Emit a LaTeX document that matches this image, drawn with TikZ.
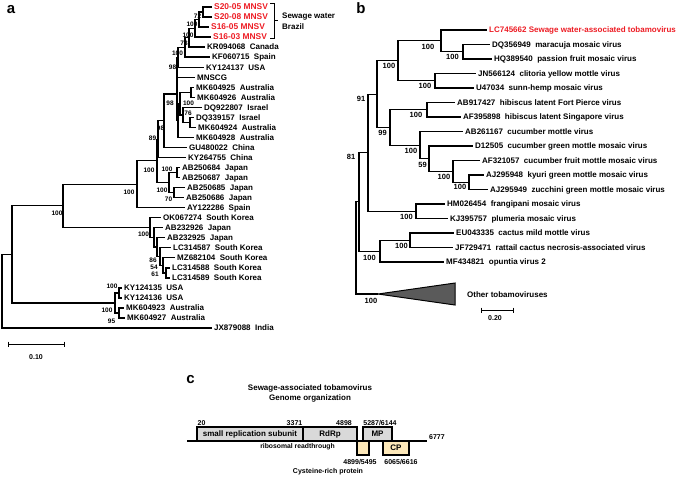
\documentclass[tikz,border=0pt]{standalone}
\usepackage{fontspec}
\setmainfont{Liberation Sans}
\usetikzlibrary{calc}
\definecolor{myred}{RGB}{237,28,36}
\definecolor{boxgray}{RGB}{217,217,217}
\definecolor{boxyel}{RGB}{253,232,185}
\definecolor{trigray}{RGB}{90,90,90}
\newcommand\mkclade[4]{%
  \path let \p1=($(#3)!0.5!(#4)$) in (#2pt,\y1) coordinate (#1);
  \draw[tr] (#3) -| (#1) |- (#4);}
\begin{document}
\begin{tikzpicture}[x=1pt,y=-1pt,
  tr/.style={line width=1.15pt},
  tip/.style={anchor=west, inner sep=2.5pt, text height=5.7pt, text depth=0pt, font=\fontsize{8}{9}\selectfont\bfseries},
  rtip/.style={tip, text=myred, font=\fontsize{8.4}{9}\selectfont\bfseries},
  txt/.style={inner sep=0pt, text height=5.7pt, text depth=0pt, font=\fontsize{8}{9}\selectfont\bfseries},
  bsa/.style={inner sep=0pt, font=\fontsize{6.5}{7}\selectfont\bfseries},
  bsb/.style={inner sep=0pt, font=\fontsize{7.5}{8}\selectfont\bfseries},
  panel/.style={inner sep=0pt, font=\fontsize{15}{15}\selectfont\bfseries},
  gbox/.style={draw, line width=1.2pt, fill=boxgray, inner sep=0pt, font=\fontsize{8}{9}\selectfont\bfseries},
  ybox/.style={draw, line width=1.2pt, fill=boxyel, inner sep=0pt, font=\fontsize{8}{9}\selectfont\bfseries},
  num/.style={inner sep=0pt, font=\fontsize{7}{8}\selectfont\bfseries}
]
\useasboundingbox (0,0) rectangle (677,477);

% ---------------- panel letters
\node[panel] (pa) at (11,9.5) {a};
\node[panel] (pb) at (361,8) {b};
\node[panel] (pc) at (190.5,380) {c};

% ---------------- tree a tips
\node[rtip] (a0) at (211.5,7) {S20-05 MNSV};
\node[rtip] (a1) at (211.5,17) {S20-08 MNSV};
\node[rtip] (a2) at (208.5,27) {S16-05 MNSV};
\node[rtip] (a3) at (210.5,37) {S16-03 MNSV};
\node[tip] (a4) at (204.5,47) {KR094068~~Canada};
\node[tip] (a5) at (209.5,57) {KF060715~~Spain};
\node[tip] (a6) at (203.5,67.5) {KY124137~~USA};
\node[tip] (a7) at (194.5,77.5) {MNSCG};
\node[tip] (a8) at (193.5,87.5) {MK604925~~Australia};
\node[tip] (a9) at (194.5,97.5) {MK604926~~Australia};
\node[tip] (a10) at (201.5,107.5) {DQ922807~~Israel};
\node[tip] (a11) at (193.5,117.5) {DQ339157~~Israel};
\node[tip] (a12) at (195.5,127.5) {MK604924~~Australia};
\node[tip] (a13) at (193.5,137.5) {MK604928~~Australia};
\node[tip] (a14) at (186.5,147.5) {GU480022~~China};
\node[tip] (a15) at (185.5,157.5) {KY264755~~China};
\node[tip] (a16) at (179.5,167.5) {AB250684~~Japan};
\node[tip] (a17) at (179.5,177.5) {AB250687~~Japan};
\node[tip] (a18) at (184.5,187.5) {AB250685~~Japan};
\node[tip] (a19) at (183.5,197.5) {AB250686~~Japan};
\node[tip] (a20) at (184.5,207.5) {AY122286~~Spain};
\node[tip] (a21) at (160.5,217.5) {OK067274~~South Korea};
\node[tip] (a22) at (162.5,227.5) {AB232926~~Japan};
\node[tip] (a23) at (164.5,237.5) {AB232925~~Japan};
\node[tip] (a24) at (170.5,247.5) {LC314587~~South Korea};
\node[tip] (a25) at (174.5,257.5) {MZ682104~~South Korea};
\node[tip] (a26) at (169.5,268) {LC314588~~South Korea};
\node[tip] (a27) at (169.5,278) {LC314589~~South Korea};
\node[tip] (a28) at (121.5,288) {KY124135~~USA};
\node[tip] (a29) at (121.5,298) {KY124136~~USA};
\node[tip] (a30) at (123.5,308) {MK604923~~Australia};
\node[tip] (a31) at (124.5,318) {MK604927~~Australia};
\node[tip] (a32) at (211.5,328) {JX879088~~India};

% ---------------- tree a branches
\mkclade{n1}{203}{a0.west}{a1.west}
\mkclade{n2}{199}{n1}{a2.west}
\mkclade{n3}{195}{n2}{a3.west}
\mkclade{n4}{189}{n3}{a4.west}
\mkclade{n5}{185}{n4}{a5.west}
\mkclade{n6}{178}{n5}{a6.west}
\mkclade{n7}{177}{n6}{a7.west}
\mkclade{x1}{191}{a8.west}{a9.west}
\mkclade{x2}{190}{a11.west}{a12.west}
\mkclade{x3}{183}{a10.west}{x2}
\mkclade{x4}{180}{x1}{x3}
\mkclade{x5}{178}{x4}{a13.west}
\mkclade{nn}{177}{n7}{x5}
\mkclade{nq}{164}{nn}{a14.west}
\mkclade{nm}{158}{nq}{a15.west}
\mkclade{j1}{177}{a16.west}{a17.west}
\mkclade{j2}{174}{a18.west}{a19.west}
\mkclade{jj}{169}{j1}{j2}
\mkclade{nl}{157}{nm}{jj}
\mkclade{nk}{137}{nl}{a20.west}
\mkclade{ki}{166}{a26.west}{a27.west}
\mkclade{kh}{163}{a25.west}{ki}
\mkclade{kg}{160}{a24.west}{kh}
\mkclade{kf}{157}{a23.west}{kg}
\mkclade{ke}{154}{a22.west}{kf}
\mkclade{kd}{150}{a21.west}{ke}
\mkclade{nb}{63}{nk}{kd}
\mkclade{c1}{119}{a28.west}{a29.west}
\mkclade{c2}{119}{a30.west}{a31.west}
\mkclade{cc}{115}{c1}{c2}
\mkclade{naa}{12}{nb}{cc}
\mkclade{nroot}{2}{naa}{a32.west}

% ---------------- tree a bootstrap
\node[bsa] at (197.5,16) {72};
\node[bsa] at (192,24) {100};
\node[bsa] at (188,35) {100};
\node[bsa] at (184,43) {73};
\node[bsa] at (177.5,53) {100};
\node[bsa] at (172.5,67) {98};
\node[bsa] at (170,103) {98};
\node[bsa] at (188.5,103) {100};
\node[bsa] at (188,113) {76};
\node[bsa] at (160.5,128) {98};
\node[bsa] at (152.5,138) {89};
\node[bsa] at (149,170) {100};
\node[bsa] at (167,169) {100};
\node[bsa] at (162,190) {100};
\node[bsa] at (168.5,199) {70};
\node[bsa] at (129,192) {100};
\node[bsa] at (57,213) {100};
\node[bsa] at (143.5,234) {100};
\node[bsa] at (153,260) {86};
\node[bsa] at (154,267) {54};
\node[bsa] at (155,274) {61};
\node[bsa] at (112,286) {100};
\node[bsa] at (107,310) {100};
\node[bsa] at (111.5,321) {95};

% sewage bracket
\coordinate (brt) at (274,3);
\coordinate (brb) at (274,38);
\draw[line width=0.9pt] (270,3) -- (brt) -- (brb) -- (270,38);
\draw[line width=0.9pt] (274,20.5) -- (277.5,20.5);
\node[txt,anchor=west] (sw1) at (282,16) {Sewage water};
\node[txt,anchor=west] (sw2) at (282,27) {Brazil};

% scale bar a
\coordinate (sa1) at (8,344);
\coordinate (sa2) at (64,344);
\draw[line width=0.9pt] (sa1) -- (sa2);
\draw[line width=0.9pt] (8,341.5) -- (8,346.5) (64,341.5) -- (64,346.5);
\node[num] (sal) at (36,357) {0.10};

% ---------------- tree b tips
\node[tip,text=myred] (b0) at (486.5,30) {LC745662 Sewage water-associated tobamovirus};
\node[tip] (b1) at (489.5,44.5) {DQ356949~~maracuja mosaic virus};
\node[tip] (b2) at (491.5,59) {HQ389540~~passion fruit mosaic virus};
\node[tip] (b3) at (475.5,73.5) {JN566124~~clitoria yellow mottle virus};
\node[tip] (b4) at (473.5,88) {U47034~~sunn-hemp mosaic virus};
\node[tip] (b5) at (454.5,102.5) {AB917427~~hibiscus latent Fort Pierce virus};
\node[tip] (b6) at (460.5,117) {AF395898~~hibiscus latent Singapore virus};
\node[tip] (b7) at (462.5,131.5) {AB261167~~cucumber mottle virus};
\node[tip] (b8) at (472.5,146) {D12505~~cucumber green mottle mosaic virus};
\node[tip] (b9) at (479.5,160.5) {AF321057~~cucumber fruit mottle mosaic virus};
\node[tip] (b10) at (483.5,175) {AJ295948~~kyuri green mottle mosaic virus};
\node[tip] (b11) at (487.5,189.5) {AJ295949~~zucchini green mottle mosaic virus};
\node[tip] (b12) at (444.5,204) {HM026454~~frangipani mosaic virus};
\node[tip] (b13) at (447.5,218.5) {KJ395757~~plumeria mosaic virus};
\node[tip] (b14) at (453.5,233) {EU043335~~cactus mild mottle virus};
\node[tip] (b15) at (452.5,247.5) {JF729471~~rattail cactus necrosis-associated virus};
\node[tip] (b16) at (443.5,262) {MF434821~~opuntia virus 2};
\node[tip] (bo) at (464.5,295) {Other tobamoviruses};

% ---------------- tree b branches
\mkclade{bB}{463}{b1.west}{b2.west}
\mkclade{bA}{441}{b0.west}{bB}
\mkclade{bC}{435}{b3.west}{b4.west}
\mkclade{bD}{398}{bA}{bC}
\mkclade{bE}{427}{b5.west}{b6.west}
\mkclade{bI}{469}{b10.west}{b11.west}
\mkclade{bH}{453}{b9.west}{bI}
\mkclade{bG}{429}{b8.west}{bH}
\mkclade{bF}{420}{b7.west}{bG}
\mkclade{bJ}{390}{bE}{bF}
\mkclade{bK}{377}{bD}{bJ}
\mkclade{bM}{416}{b12.west}{b13.west}
\mkclade{bL}{368}{bK}{bM}
\mkclade{bO}{410}{b14.west}{b15.west}
\mkclade{bN}{380}{bO}{b16.west}
\mkclade{bP}{359}{bL}{bN}
\coordinate (tri) at (378,294);
\mkclade{bR}{356}{bP}{tri}
\draw[line width=1pt, fill=trigray, line join=miter] (tri) -- (455,283) -- (455,305) -- cycle;

% ---------------- tree b bootstrap
\node[bsb] at (452.5,57) {100};
\node[bsb] at (428,47) {100};
\node[bsb] at (425,86) {100};
\node[bsb] at (389,66) {100};
\node[bsb] at (416,115) {100};
\node[bsb] at (460,187) {100};
\node[bsb] at (444,177) {100};
\node[bsb] at (422.5,165) {59};
\node[bsb] at (411,151) {100};
\node[bsb] at (382.5,133) {99};
\node[bsb] at (361,99) {91};
\node[bsb] at (406.5,217) {100};
\node[bsb] at (351,157) {81};
\node[bsb] at (401.5,246) {100};
\node[bsb] at (369.5,258) {100};
\node[bsb] at (371,301) {100};

% scale bar b
\coordinate (sb1) at (481,310);
\coordinate (sb2) at (513,310);
\draw[line width=0.9pt] (sb1) -- (sb2);
\draw[line width=0.9pt] (481,307.5) -- (481,312.5) (513,307.5) -- (513,312.5);
\node[num] (sbl) at (495,318) {0.20};

% ---------------- panel c
\node[txt] (t1) at (310,388) {Sewage-associated tobamovirus};
\node[txt] (t2) at (310,398) {Genome organization};
\coordinate (gl) at (187,441);
\coordinate (gr) at (427,441);
\draw[line width=1.5pt] (gl) -- (gr);
\node[gbox, minimum width=106pt, minimum height=14pt] (srs) at (250,434) {small replication subunit};
\node[gbox, minimum width=54pt, minimum height=14pt] (rdrp) at (330,434) {RdRp};
\node[gbox, minimum width=29pt, minimum height=14pt] (mp) at (377.5,434) {MP};
\node[ybox, minimum width=12pt, minimum height=14pt] (crp) at (363,448) {};
\node[ybox, minimum width=26pt, minimum height=14pt] (cp) at (396,448) {CP};
\node[num] (l20) at (201.5,423) {20};
\node[num] (l3371) at (294.5,423) {3371};
\node[num] (l4898) at (344,423) {4898};
\node[num] (l5287) at (380,423) {5287/6144};
\node[num,anchor=west] (l6777) at (429,437) {6777};
\node[inner sep=0pt, font=\fontsize{6.8}{8}\selectfont\bfseries] (rr) at (297.5,447) {ribosomal readthrough};
\node[num] (l4899) at (360,462) {4899/5495};
\node[num] (l6065) at (401,462) {6065/6616};
\node[num] (cys) at (328,472) {Cysteine-rich protein};
\end{tikzpicture}
\end{document}
